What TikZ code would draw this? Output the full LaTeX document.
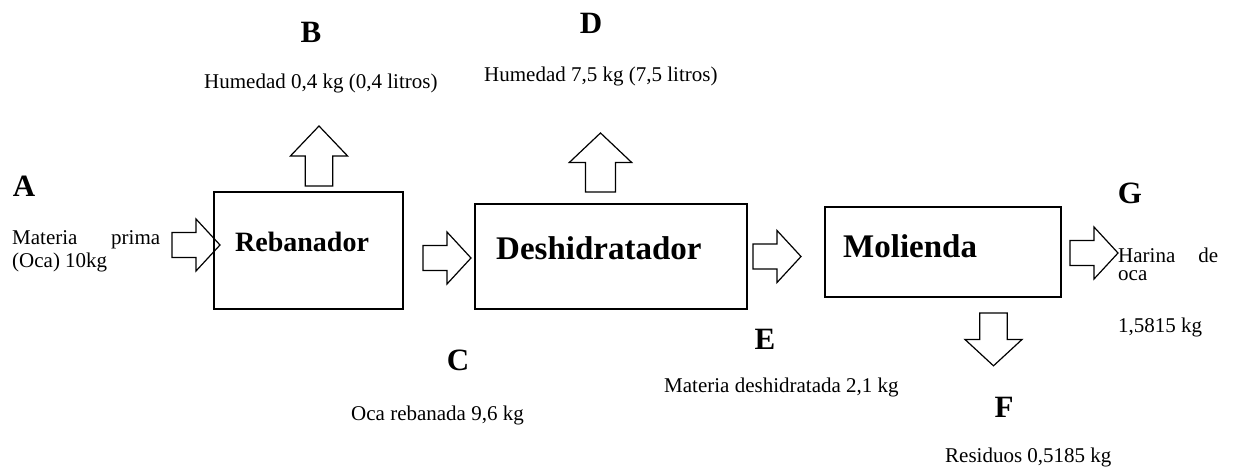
\documentclass[tikz,border=0pt]{standalone}
\usepackage{fontspec}
\setmainfont{Liberation Serif}
\usetikzlibrary{positioning}

\begin{document}
\begin{tikzpicture}[x=1pt,y=-1pt,
    caja/.style={draw,line width=1.5pt,inner sep=0pt},
    proceso/.style={font=\fontsize{28}{30}\selectfont\bfseries,inner sep=0pt,anchor=base west},
    letra/.style={font=\fontsize{31}{33}\selectfont\bfseries,inner sep=0pt,anchor=base},
    dato/.style={font=\fontsize{21}{23}\selectfont,inner sep=0pt,anchor=base west},
    flecha/.pic={\draw[line width=1.2pt,line join=miter] (0,-12.5) -- (24,-12.5) -- (24,-26) -- (48,0) -- (24,26) -- (24,12.5) -- (0,12.5) -- cycle;}]
        \useasboundingbox (0,0) rectangle (1235,469);
        % boxes
        \node[caja,minimum width=189,minimum height=117] (reb) at (308.5,250.5) {};
        \node[caja,minimum width=272,minimum height=105] (des) at (611,256.5) {};
        \node[caja,minimum width=236,minimum height=90] (mol) at (943,252) {};
        \node[proceso] (treb) at (235,251) {Rebanador};
        \node[proceso,font=\fontsize{33}{35}\selectfont\bfseries] (tdes) at (496,259) {Deshidratador};
        \node[proceso,font=\fontsize{33}{35}\selectfont\bfseries] (tmol) at (843,257) {Molienda};
        % arrows
        \pic at (172,245) {flecha};
        \pic at (423,258) {flecha};
        \pic at (753,256.5) {flecha};
        \pic at (1070,253) {flecha};
        \pic[rotate=90,xscale=1.25,yscale=1.1] at (319,186) {flecha};
        \pic[rotate=90,xscale=1.23,yscale=1.2] at (600.5,192) {flecha};
        \pic[rotate=-90,xscale=1.1,yscale=1.1] at (993.5,313) {flecha};
        % labels
        \node[letra] (a) at (24,196) {A};
        \node[letra] (b) at (311,42) {B};
        \node[letra] (c) at (458,370) {C};
        \node[letra] (d) at (591,33) {D};
        \node[letra] (e) at (765,349) {E};
        \node[letra] (f) at (1004,417) {F};
        \node[letra] (g) at (1130,203) {G};
        \node[dato,text width=148,align=justify] (ta) at (12,244) {Materia prima (Oca) 10kg};
        \node[dato] (tb) at (204,88) {Humedad 0,4 kg (0,4 litros)};
        \node[dato] (tc) at (351,420) {Oca rebanada 9,6 kg};
        \node[dato] (td) at (484,81) {Humedad 7,5 kg (7,5 litros)};
        \node[dato] (te) at (664,392) {Materia deshidratada 2,1 kg};
        \node[dato] (tf) at (945,462) {Residuos 0,5185 kg};
        \node[dato,text width=100,align=justify,font=\fontsize{21}{18.5}\selectfont] (tg) at (1118,262) {Harina de oca};
        \node[dato] (tg2) at (1118,332) {1,5815 kg};
\end{tikzpicture}
\end{document}
